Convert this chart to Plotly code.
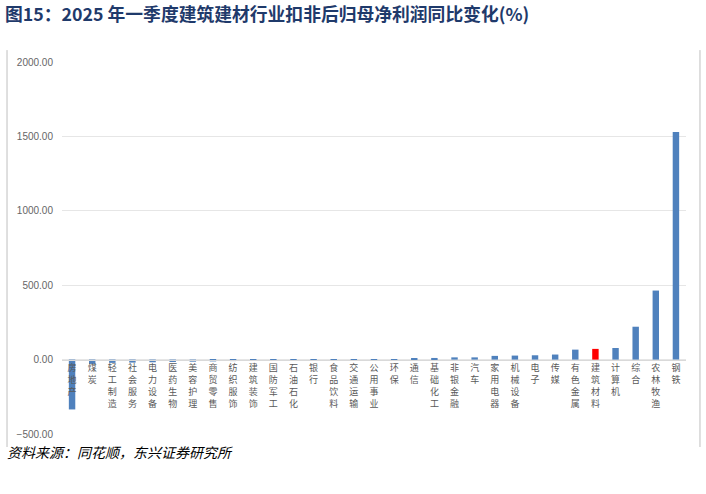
import plotly.graph_objects as go

categories = ["房地产", "煤炭", "轻工制造", "社会服务", "电力设备", "医药生物", "美容护理",
              "商贸零售", "纺织服饰", "建筑装饰", "国防军工", "石油石化", "银行", "食品饮料",
              "交通运输", "公用事业", "环保", "通信", "基础化工", "非银金融", "汽车", "家用电器",
              "机械设备", "电子", "传媒", "有色金属", "建筑材料", "计算机", "综合", "农林牧渔", "钢铁"]
values = [-335, -29, -22, -20, -18, -16, -14, -12, -10, -8, -6, -5, -3, -1,
          1, 3, 4, 7, 11, 15, 15, 25, 27, 29, 34, 67, 72, 78, 221, 464, 1530]
highlight = "建筑材料"
yticks = [-500, 0, 500, 1000, 1500, 2000]

colors = ["#FF0000" if c == highlight else "#4F81BD" for c in categories]
ticktext = ["<br>".join(list(c)) for c in categories]

fig = go.Figure()
fig.add_trace(go.Bar(x=categories, y=values, marker=dict(color=colors, line=dict(width=0)),
                     width=0.32, hoverinfo="x+y"))

fig.update_layout(
    width=706, height=494,
    margin=dict(l=62, r=20, t=62, b=60),
    paper_bgcolor="white", plot_bgcolor="white",
    showlegend=False,
    font=dict(family="Noto Sans CJK SC, Liberation Sans, Arial", color="#595959"),
    title=dict(text="<b>图15：2025 年一季度建筑建材行业扣非后归母净利润同比变化(%)</b>",
               x=0.0, xref="container", xanchor="left", y=0.97, yanchor="middle",
               pad=dict(l=5),
               font=dict(size=17.8, color="#1F3A6B", family="Noto Sans CJK SC, Liberation Sans")),
)

fig.update_xaxes(
    tickmode="array", tickvals=categories, ticktext=ticktext,
    tickangle=0, ticks="", showgrid=False,
    anchor="free", position=0.2,
    showline=True, linecolor="#D9D9D9", linewidth=1,
    tickfont=dict(size=9, color="#595959", family="Noto Sans CJK SC"),
    range=[-0.5, len(categories) - 0.5],
)
fig.update_yaxes(
    range=[-500, 2000], tickvals=yticks, tickformat=".2f",
    showgrid=True, gridcolor="#E6E6E6", gridwidth=1,
    zeroline=False, showline=False, ticks="",
    ticklabelstandoff=8,
    tickfont=dict(size=10, color="#666666", family="Liberation Sans, Arial"),
)

# chart frame side lines
fig.add_shape(type="line", xref="paper", yref="paper", x0=-0.0881, x1=-0.0881, y0=-0.035, y1=1.032,
              line=dict(color="#BFBFBF", width=1))
fig.add_shape(type="line", xref="paper", yref="paper", x0=1.0224, x1=1.0224, y0=-0.035, y1=1.032,
              line=dict(color="#BFBFBF", width=1))

fig.add_annotation(text="<i>资料来源：同花顺，东兴证券研究所</i>", xref="paper", yref="paper",
                   x=-0.092, y=-0.017, xanchor="left", yanchor="top", showarrow=False,
                   font=dict(size=14, color="#000000", family="Noto Sans CJK SC"))

fig.write_html("out.html", config={"displayModeBar": False},
               post_script="document.body.style.margin='0';")
